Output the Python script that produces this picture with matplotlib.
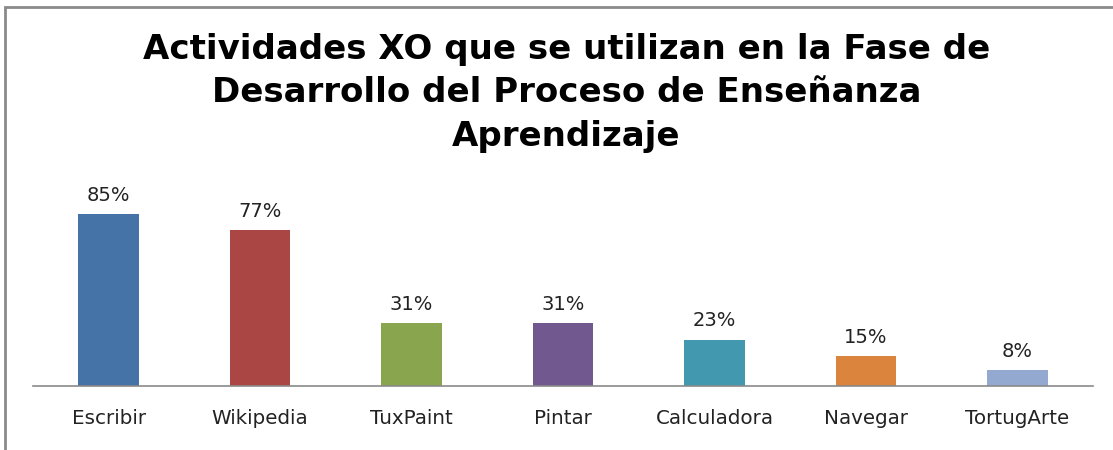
import matplotlib
matplotlib.use("Agg")
import matplotlib.pyplot as plt
from matplotlib.patches import Rectangle

categories = ["Escribir", "Wikipedia", "TuxPaint", "Pintar", "Calculadora", "Navegar", "TortugArte"]
values = [85, 77, 31, 31, 23, 15, 8]
labels = ["85%", "77%", "31%", "31%", "23%", "15%", "8%"]
colors = ["#4572A7", "#AA4643", "#89A54E", "#71588F", "#4198AF", "#DB843D", "#93A9CF"]
title = "Actividades XO que se utilizan en la Fase de\nDesarrollo del Proceso de Enseñanza\nAprendizaje"

W, H = 1113, 450
fig = plt.figure(figsize=(W / 100, H / 100), dpi=100)
fig.patch.set_facecolor("white")

# chart border (top and left visible)
fig.add_artist(Rectangle((5 / W, -0.1), 1.2, (H - 7) / H + 0.1, transform=fig.transFigure,
                         fill=False, edgecolor="#8a8a8a", linewidth=2))

ax = fig.add_axes([33 / W, (H - 386) / H, (1093 - 33) / W, (386 - 170) / H])
x = range(len(categories))
ax.bar(x, values, width=0.4, color=colors)
ax.set_xlim(-0.5, len(categories) - 0.5)
ax.set_ylim(0, (386 - 170) / 2.02)

for xi, v, lab in zip(x, values, labels):
    ax.annotate(lab, (xi, v), xytext=(0, 9.4), textcoords="offset points",
                ha="center", va="baseline", fontsize=14, family="DejaVu Sans", color="#222222")

ax.set_xticks(list(x))
ax.set_xticklabels(categories, fontsize=14.3, family="DejaVu Sans", color="#222222")
ax.tick_params(axis="x", length=0, pad=16.5)
ax.set_yticks([])
for s in ["top", "right", "left"]:
    ax.spines[s].set_visible(False)
ax.spines["bottom"].set_color("#8a8a8a")
ax.spines["bottom"].set_linewidth(1.2)

fig.text(0.509, (H - 93) / H, title, ha="center", va="center", fontsize=24.5,
         fontweight="bold", family="DejaVu Sans", linespacing=1.41, color="black")

fig.savefig("out.png", dpi=100)
